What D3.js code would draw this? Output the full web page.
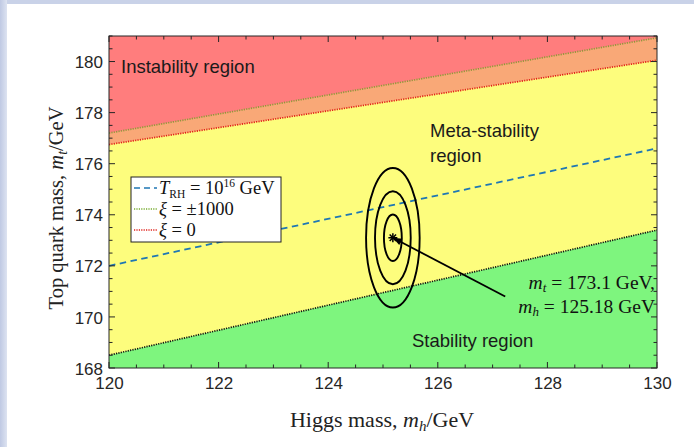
<!DOCTYPE html>
<html><head><meta charset="utf-8">
<script src="https://cdn.jsdelivr.net/npm/d3@7"></script>
<style>
html,body{margin:0;padding:0;background:#fff;}
svg{display:block;}
</style></head>
<body>
<svg id="c" width="694" height="447"></svg>
<script>
// ---- data ----
const higgsDomain = [120, 130];
const topDomain = [168, 181];
const xTickValues = [120, 122, 124, 126, 128, 130];
const yTickValues = [168, 170, 172, 174, 176, 178, 180];
const lineHiggs = [120, 130];
const stabilityBoundary = [168.5, 173.4];   // black dotted
const xiZeroBoundary = [176.75, 180.05];   // red dotted
const xi1000Boundary = [177.2, 180.93];    // green dotted
const trhLine = [172.0, 176.6];            // blue dashed
const bestFit = {mh: 125.18, mt: 173.1};
const sigma = {mh: 0.163, mt: 0.91};
const sigmaLevels = [1, 2, 3];
const annotationEnd = {mh: 127.23, mt: 170.8};
const legendLabels = ["T_RH", "ξ = ±1000", "ξ = 0"];

const svg = d3.select("#c");
const W = 694, H = 447;
// background frame
svg.append("rect").attr("width", W).attr("height", H).attr("fill", "#c9d2e8");
const gradDefs = svg.append("defs");
const lg = gradDefs.append("linearGradient").attr("id","lstrip").attr("x1",0).attr("x2",1);
lg.append("stop").attr("offset",0).attr("stop-color","#bfc9e3");
lg.append("stop").attr("offset",1).attr("stop-color","#dde3f1");
svg.append("rect").attr("x",0).attr("y",0).attr("width",7).attr("height",H).attr("fill","url(#lstrip)");
svg.append("rect").attr("x", 7).attr("y", 4).attr("width", W - 7).attr("height", H - 4).attr("fill", "#fff");

const L = 109, R = 657, T = 36, B = 368;
const x = d3.scaleLinear().domain(higgsDomain).range([L, R]);
const y = d3.scaleLinear().domain(topDomain).range([B, T]);

const defs = svg.append("defs");
defs.append("clipPath").attr("id", "clip").append("rect")
  .attr("x", L).attr("y", T).attr("width", R - L).attr("height", B - T);
const plot = svg.append("g").attr("clip-path", "url(#clip)");

const lineGen = d3.line().x(d => x(d[0])).y(d => y(d[1]));
const pts = arr => lineHiggs.map((h, i) => [h, arr[i]]);
const yHi = topDomain[1] + 1, yLo = topDomain[0] - 1;

// regions
const area = (lower, upper) => {
  const lo = typeof lower === "number" ? lineHiggs.map(h => [h, lower]) : pts(lower);
  const up = typeof upper === "number" ? lineHiggs.map(h => [h, upper]) : pts(upper);
  return lineGen(lo.concat(up.slice().reverse())) + "Z";
};
plot.append("path").attr("d", area(yLo, yHi)).attr("fill", "#ff7d7d");
plot.append("path").attr("d", area(yLo, xi1000Boundary)).attr("fill", "#f9a877");
plot.append("path").attr("d", area(yLo, xiZeroBoundary)).attr("fill", "#fdfd7d");
plot.append("path").attr("d", area(yLo, stabilityBoundary)).attr("fill", "#7ef57e");

// boundary lines
plot.append("path").attr("d", lineGen(pts(xi1000Boundary))).attr("fill", "none")
  .attr("stroke", "#8f9a3a").attr("stroke-width", 1.7).attr("stroke-dasharray", "1.2 1.2");
plot.append("path").attr("d", lineGen(pts(xiZeroBoundary))).attr("fill", "none")
  .attr("stroke", "#e0201a").attr("stroke-width", 1.7).attr("stroke-dasharray", "1.2 1.2");
plot.append("path").attr("d", lineGen(pts(stabilityBoundary))).attr("fill", "none")
  .attr("stroke", "#111").attr("stroke-width", 1.7).attr("stroke-dasharray", "1.2 1.2");
plot.append("path").attr("d", lineGen(pts(trhLine))).attr("fill", "none")
  .attr("stroke", "#1f77b4").attr("stroke-width", 1.8).attr("stroke-dasharray", "6.5 4.5");

// ellipses
const cx = x(bestFit.mh), cy = y(bestFit.mt);
plot.selectAll("ellipse.s").data(sigmaLevels).join("ellipse")
  .attr("cx", cx).attr("cy", cy)
  .attr("rx", n => x(bestFit.mh + n * sigma.mh) - cx)
  .attr("ry", n => cy - y(bestFit.mt + n * sigma.mt))
  .attr("fill", "none").attr("stroke", "#000").attr("stroke-width", 1.9);

// annotation line w/ arrowhead at best fit
const ax = x(annotationEnd.mh), ay = y(annotationEnd.mt);
plot.append("line").attr("x1", ax).attr("y1", ay).attr("x2", cx).attr("y2", cy)
  .attr("stroke", "#000").attr("stroke-width", 1.8);
const ang = Math.atan2(cy - ay, cx - ax);
const ah = 9, aw = 3.5;
const hx = cx - Math.cos(ang) * ah, hy = cy - Math.sin(ang) * ah;
plot.append("path").attr("d",
  `M${cx},${cy}L${hx - Math.sin(ang) * aw},${hy + Math.cos(ang) * aw}L${hx + Math.sin(ang) * aw},${hy - Math.cos(ang) * aw}Z`)
  .attr("fill", "#000");
// asterisk marker
const star = plot.append("g").attr("transform", `translate(${cx},${cy})`);
[0, 45, 90, 135].forEach(a => {
  const r = 4.5, t = a * Math.PI / 180;
  star.append("line").attr("x1", -r * Math.cos(t)).attr("y1", -r * Math.sin(t))
    .attr("x2", r * Math.cos(t)).attr("y2", r * Math.sin(t))
    .attr("stroke", "#000").attr("stroke-width", 1.5);
});

// axes box and ticks (inward)
const axisColor = "#262626";
const minorX = d3.range(120, 130.001, 0.5);
const minorY = d3.range(168, 181.001, 0.5);
const tk = svg.append("g").attr("stroke", axisColor).attr("stroke-width", 1);
minorX.forEach(v => {
  const len = Math.abs(v % 2) < 1e-6 ? 6 : 3.5;
  tk.append("line").attr("x1", x(v)).attr("x2", x(v)).attr("y1", B).attr("y2", B - len);
  tk.append("line").attr("x1", x(v)).attr("x2", x(v)).attr("y1", T).attr("y2", T + len);
});
minorY.forEach(v => {
  const len = Math.abs(v % 2) < 1e-6 ? 6 : 3.5;
  tk.append("line").attr("y1", y(v)).attr("y2", y(v)).attr("x1", L).attr("x2", L + len);
  tk.append("line").attr("y1", y(v)).attr("y2", y(v)).attr("x1", R).attr("x2", R - len);
});
svg.append("rect").attr("x", L).attr("y", T).attr("width", R - L).attr("height", B - T)
  .attr("fill", "none").attr("stroke", axisColor).attr("stroke-width", 1);

// tick labels using d3 axes (without lines)
const xAxis = d3.axisBottom(x).tickValues(xTickValues).tickSize(0).tickPadding(0).tickFormat(d3.format("d"));
const gx = svg.append("g").attr("transform", `translate(0,${B})`).call(xAxis);
gx.select(".domain").remove();
gx.selectAll("text").attr("font-family", "Liberation Sans, Arial, sans-serif").attr("font-size", 17)
  .attr("fill", axisColor).attr("dy", null).attr("y", 21);
const yAxis = d3.axisLeft(y).tickValues(yTickValues).tickSize(0).tickPadding(0).tickFormat(d3.format("d"));
const gy = svg.append("g").attr("transform", `translate(${L},0)`).call(yAxis);
gy.select(".domain").remove();
gy.selectAll("text").attr("font-family", "Liberation Sans, Arial, sans-serif").attr("font-size", 17)
  .attr("fill", axisColor).attr("x", -6).attr("dy", "0.36em");

// axis titles (serif, math italics)
const serif = "Liberation Serif, Times New Roman, serif";
const xt = svg.append("text").attr("x", 382).attr("y", 427).attr("text-anchor", "middle")
  .attr("font-family", serif).attr("font-size", 22).attr("fill", "#222");
xt.append("tspan").text("Higgs mass, ");
xt.append("tspan").attr("font-style", "italic").text("m");
xt.append("tspan").attr("font-size", 15).attr("font-style", "italic").attr("dy", 4).text("h");
xt.append("tspan").attr("dy", -4).text("/GeV");

const yt = svg.append("text").attr("transform", `translate(63,208) rotate(-90)`)
  .attr("text-anchor", "middle").attr("font-family", serif).attr("font-size", 20.5).attr("fill", "#222");
yt.append("tspan").text("Top quark mass, ");
yt.append("tspan").attr("font-style", "italic").text("m");
yt.append("tspan").attr("font-size", 14).attr("font-style", "italic").attr("dy", 4).text("t");
yt.append("tspan").attr("dy", -4).text("/GeV");

// region labels
const sans = "Liberation Sans, Arial, sans-serif";
const lab = (t, px, py) => svg.append("text").attr("x", px).attr("y", py)
  .attr("font-family", sans).attr("font-size", 18.5).attr("fill", "#1a1a1a").text(t);
lab("Instability region", 121, 73);
lab("Meta-stability", 430, 137);
lab("region", 430, 162);
lab("Stability region", 412, 347);

// best fit annotation
const ann = (yy, sub, val) => {
  const t = svg.append("text").attr("x", 655).attr("y", yy).attr("text-anchor", "end")
    .attr("font-family", serif).attr("font-size", 19.5).attr("fill", "#111");
  t.append("tspan").attr("font-style", "italic").text("m");
  t.append("tspan").attr("font-style", "italic").attr("font-size", 13).attr("dy", 3).text(sub);
  t.append("tspan").attr("dy", -3).text(" = " + val);
};
ann(289, "t", "173.1 GeV,");
ann(313, "h", "125.18 GeV");

// legend
const lgx = 131, lgy = 177, lgw = 150, lgh = 65;
svg.append("rect").attr("x", lgx).attr("y", lgy).attr("width", lgw).attr("height", lgh)
  .attr("fill", "#fff").attr("stroke", "#222").attr("stroke-width", 1);
const rows = [
  {stroke: "#1f77b4", dash: "6 4"},
  {stroke: "#77ac30", dash: "1.2 1.2"},
  {stroke: "#e0201a", dash: "1.2 1.2"}
];
rows.forEach((r, i) => {
  const ry = lgy + 11 + i * 21;
  svg.append("line").attr("x1", lgx + 3).attr("x2", lgx + 26).attr("y1", ry).attr("y2", ry)
    .attr("stroke", r.stroke).attr("stroke-width", 1.6).attr("stroke-dasharray", r.dash);
});
const lt0 = svg.append("text").attr("x", lgx + 28).attr("y", lgy + 17)
  .attr("font-family", serif).attr("font-size", 18.5).attr("fill", "#111");
lt0.append("tspan").attr("font-style", "italic").text("T");
lt0.append("tspan").attr("font-size", 11.5).attr("dy", 4).text("RH");
lt0.append("tspan").attr("dy", -4).text(" = 10");
lt0.append("tspan").attr("font-size", 11.5).attr("dy", -7).text("16");
lt0.append("tspan").attr("dy", 7).text(" GeV");
[legendLabels[1], legendLabels[2]].forEach((s, i) => {
  const t = svg.append("text").attr("x", lgx + 28).attr("y", lgy + 38 + i * 21)
    .attr("font-family", serif).attr("font-size", 18.5).attr("fill", "#111");
  t.append("tspan").attr("font-style", "italic").text(s[0]);
  t.append("tspan").text(s.slice(1));
});
</script>
</body></html>
